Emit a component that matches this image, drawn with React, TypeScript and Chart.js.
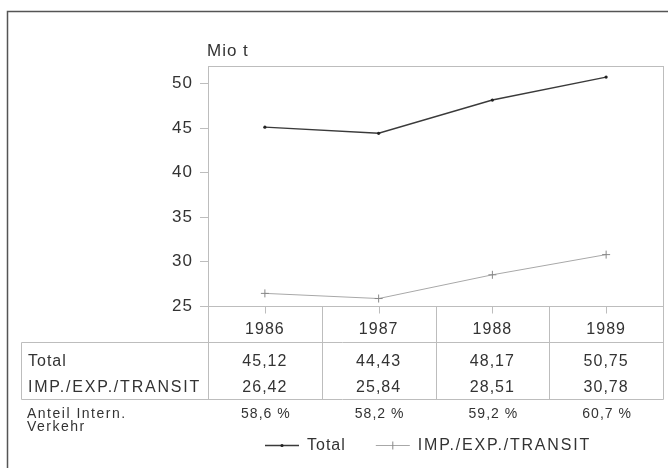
import React, { useEffect, useRef } from "react";
import { Chart, registerables } from "chart.js";

Chart.register(...registerables);

const years = ["1986", "1987", "1988", "1989"];
const totalValues = [45.12, 44.43, 48.17, 50.75];
const transitValues = [26.42, 25.84, 28.51, 30.78];
const shareValues = ["58,6 %", "58,2 %", "59,2 %", "60,7 %"];
const seriesLabels = ["Total", "IMP./EXP./TRANSIT"];
const shareLabel = ["Anteil Intern.", "Verkehr"];
const yTicks = [25, 30, 35, 40, 45, 50];
const yMin = 25;
const yMax = 52;
const unitLabel = "Mio t";

const FONT = "'Liberation Sans', Arial, Helvetica, sans-serif";
const TEXT = "#333";
const RULE = "#bdbdbd";

const fmt = (v: number) => v.toFixed(2).replace(".", ",");
const spacingFor = (label: string) => (label.length > 8 ? "1.8px" : "1px");

const tablePlugin = {
  id: "tablePlugin",
  beforeDraw(chart: any) {
    const ctx = chart.ctx;
    ctx.letterSpacing = "1px";
    const a = chart.chartArea;
    ctx.save();
    ctx.strokeStyle = "#555";
    ctx.lineWidth = 1.5;
    ctx.beginPath();
    ctx.moveTo(7.5, chart.height);
    ctx.lineTo(7.5, 11.5);
    ctx.lineTo(chart.width, 11.5);
    ctx.stroke();
    ctx.strokeStyle = RULE;
    ctx.lineWidth = 1;
    ctx.strokeRect(Math.round(a.left) + 0.5, Math.round(a.top) + 0.5, Math.round(a.right - a.left), Math.round(a.bottom - a.top));
    ctx.restore();
  },
  afterDraw(chart: any) {
    const ctx = chart.ctx;
    const a = chart.chartArea;
    const xs = chart.scales.x;
    const n = years.length;
    const w = (a.right - a.left) / n;
    const top = Math.round(a.bottom) + 0.5;
    const yearBottom = top + 36;
    const tableBottom = top + 93;
    const tableLeft = 21.5;
    ctx.save();
    ctx.letterSpacing = "1px";
    ctx.strokeStyle = RULE;
    ctx.lineWidth = 1;
    ctx.beginPath();
    for (let i = 0; i <= n; i++) {
      const x = Math.round(a.left + i * w) + 0.5;
      ctx.moveTo(x, top);
      ctx.lineTo(x, tableBottom);
    }
    ctx.moveTo(tableLeft, yearBottom);
    ctx.lineTo(tableLeft, tableBottom);
    ctx.moveTo(tableLeft, yearBottom);
    ctx.lineTo(Math.round(a.right) + 0.5, yearBottom);
    ctx.moveTo(tableLeft, tableBottom);
    ctx.lineTo(Math.round(a.right) + 0.5, tableBottom);
    for (let i = 0; i < n; i++) {
      const x = Math.round(xs.getPixelForValue(i)) + 0.5;
      ctx.moveTo(x, top);
      ctx.lineTo(x, top + 7);
    }
    ctx.stroke();

    ctx.fillStyle = TEXT;
    ctx.textBaseline = "middle";
    ctx.font = `17px ${FONT}`;
    ctx.textAlign = "left";
    ctx.fillText(unitLabel, a.left - 1, 51);
    ctx.font = `16px ${FONT}`;
    ctx.textAlign = "center";
    for (let i = 0; i < n; i++) {
      const x = xs.getPixelForValue(i);
      ctx.fillText(years[i], x, top + 23);
      ctx.fillText(fmt(totalValues[i]), x, top + 55);
      ctx.fillText(fmt(transitValues[i]), x, top + 81);
    }
    ctx.textAlign = "left";
    ctx.letterSpacing = spacingFor(seriesLabels[0]);
    ctx.fillText(seriesLabels[0], 28, top + 55);
    ctx.letterSpacing = spacingFor(seriesLabels[1]);
    ctx.fillText(seriesLabels[1], 28, top + 81);

    ctx.font = `14px ${FONT}`;
    ctx.letterSpacing = "1.5px";
    ctx.fillText(shareLabel[0], 27, top + 108);
    ctx.fillText(shareLabel[1], 27, top + 121);
    ctx.letterSpacing = "1px";
    ctx.textAlign = "center";
    for (let i = 0; i < n; i++) {
      ctx.fillText(shareValues[i], xs.getPixelForValue(i) + 1, top + 108);
    }

    ctx.font = `16px ${FONT}`;
    ctx.textAlign = "left";
    let lx = 265;
    const ly = top + 139;
    chart.data.datasets.forEach((ds: any, i: number) => {
      ctx.strokeStyle = ds.borderColor;
      ctx.lineWidth = ds.borderWidth;
      ctx.beginPath();
      ctx.moveTo(lx, ly);
      ctx.lineTo(lx + 34, ly);
      ctx.stroke();
      const cx = lx + 17;
      if (i === 0) {
        ctx.fillStyle = ds.pointBackgroundColor;
        ctx.beginPath();
        ctx.arc(cx, ly, 1.6, 0, Math.PI * 2);
        ctx.fill();
      } else {
        ctx.strokeStyle = ds.pointBorderColor;
        ctx.lineWidth = 1;
        ctx.beginPath();
        ctx.moveTo(cx, ly - 4);
        ctx.lineTo(cx, ly + 4);
        ctx.stroke();
      }
      ctx.fillStyle = TEXT;
      const tx = lx + 42;
      ctx.letterSpacing = spacingFor(ds.label);
      ctx.fillText(ds.label, tx, ly);
      lx = tx + ctx.measureText(ds.label).width + 30;
    });
    ctx.restore();
  },
};

export default function App() {
  const ref = useRef<HTMLCanvasElement | null>(null);
  useEffect(() => {
    if (!ref.current) return;
    const chart = new Chart(ref.current, {
      type: "line",
      data: {
        labels: years,
        datasets: [
          {
            label: seriesLabels[0],
            data: totalValues,
            borderColor: "#3a3a3a",
            borderWidth: 1.4,
            pointStyle: "circle",
            pointRadius: 1.6,
            pointBackgroundColor: "#222",
            pointBorderColor: "#222",
            pointBorderWidth: 0,
            tension: 0,
          },
          {
            label: seriesLabels[1],
            data: transitValues,
            borderColor: "#a8a8a8",
            borderWidth: 1,
            pointStyle: "cross",
            pointRadius: 4,
            pointBorderColor: "#888",
            pointBackgroundColor: "#888",
            pointBorderWidth: 1,
            tension: 0,
          },
        ],
      },
      options: {
        animation: false,
        responsive: false,
        maintainAspectRatio: false,
        layout: { padding: { left: 8, top: 66, right: 4, bottom: 162 } },
        plugins: {
          legend: { display: false },
          tooltip: { enabled: false },
        },
        scales: {
          x: {
            type: "category",
            display: false,
            offset: true,
          },
          y: {
            min: yMin,
            max: yMax,
            afterFit: (scale: any) => {
              scale.width = 200;
            },
            afterBuildTicks: (scale: any) => {
              scale.ticks = yTicks.map((v) => ({ value: v }));
            },
            border: { display: true, color: RULE, width: 1 },
            grid: {
              drawOnChartArea: false,
              drawTicks: true,
              tickLength: 8,
              color: RULE,
            },
            ticks: {
              color: TEXT,
              padding: 7,
              font: { family: FONT, size: 17 },
            },
          },
        },
      },
      plugins: [tablePlugin],
    });
    return () => chart.destroy();
  }, []);
  return (
    <div style={{ position: "fixed", left: 0, top: 0, width: 668, height: 468, background: "#fff" }}>
      <canvas ref={ref} width={668} height={468} />
    </div>
  );
}
